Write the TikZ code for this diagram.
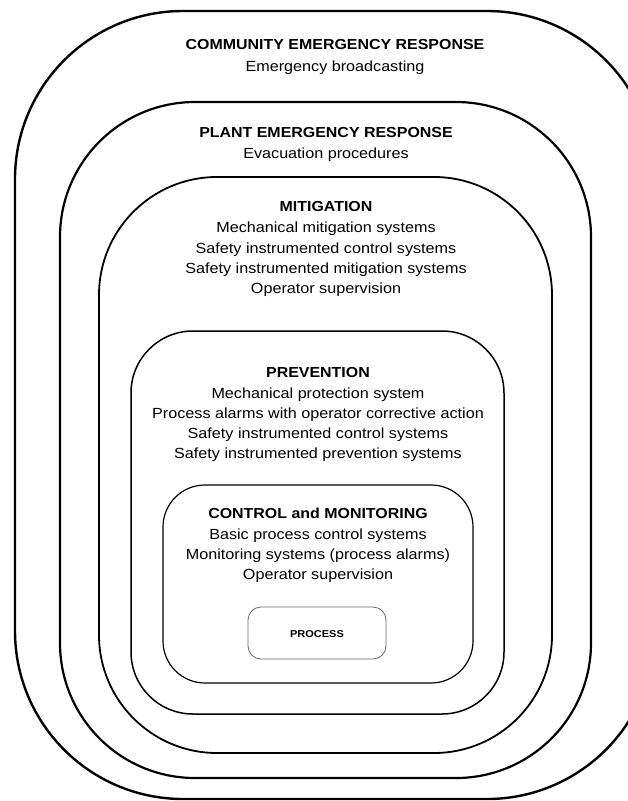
\documentclass[tikz,border=0pt]{standalone}
\usepackage{fontspec}
\setmainfont{Liberation Sans}[FakeStretch=1.1]
\begin{document}
\begin{tikzpicture}[x=1pt,y=-1pt,
  layer/.style={draw=black,rounded corners=#1,inner sep=0pt,outer sep=0pt,fill=none},
  ttl/.style={anchor=base,inner sep=0pt,font=\fontsize{14.5}{17}\selectfont\bfseries},
  txt/.style={anchor=base,inner sep=0pt,font=\fontsize{14.7}{17}\selectfont},
  ptxt/.style={anchor=base,inner sep=0pt,font=\fontsize{10}{12}\selectfont\bfseries}]
\useasboundingbox (0,0) rectangle (628,801);
\clip (0,0) rectangle (628,801);
\fill[white] (0,0) rectangle (628,801);
% boxes
\node[layer=168pt,line width=2.4pt,minimum width=640pt,minimum height=788pt] (outer) at (335,405) {};
\node[layer=135pt,line width=2.2pt,minimum width=531pt,minimum height=676pt] (plant) at (325.5,440) {};
\node[layer=118pt,line width=1.8pt,minimum width=453pt,minimum height=576pt] (mitig) at (325.5,465) {};
\node[layer=62pt,line width=1.5pt,minimum width=373pt,minimum height=383pt] (prev) at (317.5,522.5) {};
\node[layer=42pt,line width=1.2pt,minimum width=310pt,minimum height=198pt] (ctrl) at (318,584) {};
\node[layer=13pt,draw=black!60,line width=0.8pt,minimum width=138pt,minimum height=52pt] (proc) at (317,633) {};
% community
\node[ttl] (c1) at (335,49) {COMMUNITY EMERGENCY RESPONSE};
\node[txt] (c2) at (335,71) {Emergency broadcasting};
% plant
\node[ttl] (p1) at (326,137) {PLANT EMERGENCY RESPONSE};
\node[txt] (p2) at (326,158) {Evacuation procedures};
% mitigation
\node[ttl] (m1) at (326,211) {MITIGATION};
\node[txt] (m2) at (326,232) {Mechanical mitigation systems};
\node[txt] (m3) at (326,253) {Safety instrumented control systems};
\node[txt] (m4) at (326,273) {Safety instrumented mitigation systems};
\node[txt] (m5) at (326,293) {Operator supervision};
% prevention
\node[ttl] (v1) at (318,377) {PREVENTION};
\node[txt] (v2) at (318,398) {Mechanical protection system};
\node[txt] (v3) at (318,418) {Process alarms with operator corrective action};
\node[txt] (v4) at (318,438) {Safety instrumented control systems};
\node[txt] (v5) at (318,458) {Safety instrumented prevention systems};
% control
\node[ttl] (k1) at (318,518) {CONTROL and MONITORING};
\node[txt] (k2) at (318,539) {Basic process control systems};
\node[txt] (k3) at (318,559) {Monitoring systems (process alarms)};
\node[txt] (k4) at (318,579) {Operator supervision};
% process
\node[ptxt] (pr) at (317,637) {PROCESS};
\end{tikzpicture}
\end{document}
